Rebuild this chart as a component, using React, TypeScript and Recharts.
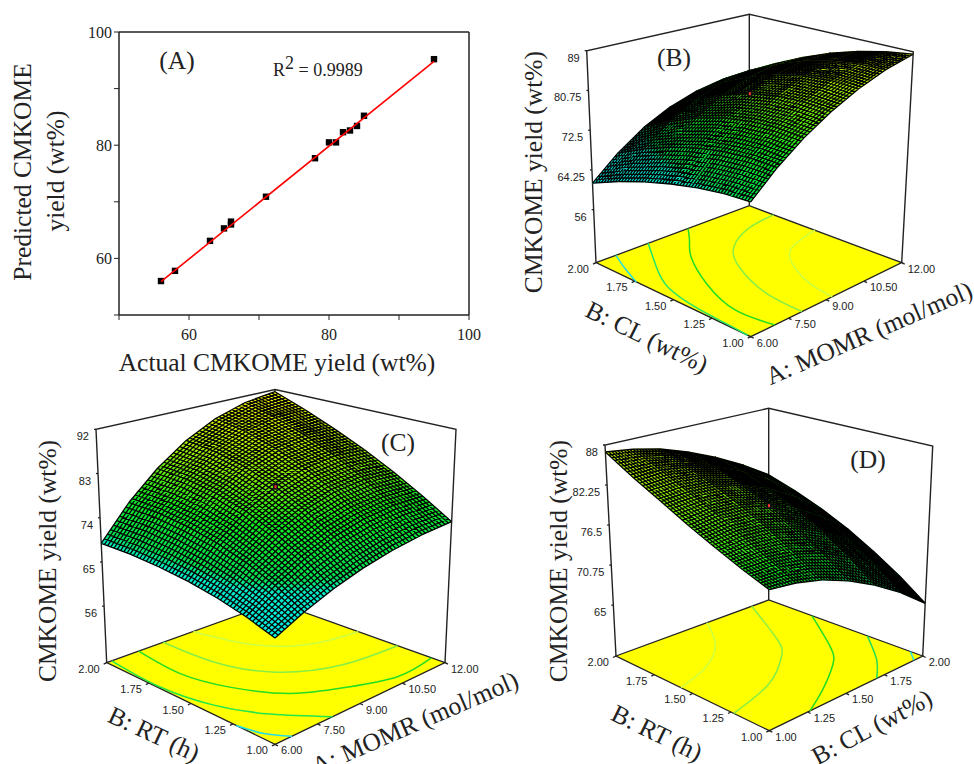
import React from 'react'
import { ReferenceLine, Scatter, ScatterChart, XAxis, YAxis } from 'recharts'

// (A) actual vs predicted
const actualYield = [56, 58, 63, 65, 66, 66, 71, 78, 80, 81, 82, 83, 84, 85, 95]
const predictedYield = [56, 57.8, 63.1, 65.3, 66, 66.5, 70.9, 77.7, 80.5, 80.5, 82.3, 82.6, 83.4, 85.2, 95.2]
const fitActual = [56, 95]
const fitPredicted = [55.9, 94.8]
const axisTicksA = [50, 60, 70, 80, 90, 100]
const labelledTicksA = [60, 80, 100]

// (B) yield rows, one per CL value, along MOMR
const bMomr = [6, 7, 8, 9, 10, 11, 12]
const bCl = [1, 1.167, 1.333, 1.5, 1.667, 1.833, 2]
const bYield = [
  [70.5, 75.1, 79.0, 82.3, 85.0, 87.1, 88.5],
  [70.1, 75.1, 79.3, 82.6, 85.2, 86.9, 87.7],
  [69.2, 74.5, 78.8, 82.2, 84.6, 86.0, 86.4],
  [67.9, 73.3, 77.7, 81.0, 83.3, 84.5, 84.6],
  [66.2, 71.5, 75.8, 79.0, 81.1, 82.2, 82.2],
  [64.1, 69.1, 73.2, 76.2, 78.3, 79.3, 79.3],
  [61.5, 66.1, 69.9, 72.7, 74.6, 75.7, 75.8],
]
const bContours = [
  [[6.78, 2], [6.36, 1.87], [6, 1.74]],
  [[8.04, 2], [7.14, 1.8], [6.42, 1.6], [6.12, 1.36], [6.06, 1.18], [6, 1.02]],
  [[9.6, 2], [9, 1.89], [8.28, 1.76], [7.38, 1.51], [6.81, 1.23], [6.96, 1]],
  [[12, 1.84], [10.86, 1.81], [9.66, 1.71], [8.82, 1.54], [8.16, 1.26], [8.04, 1]],
  [[12, 1.57], [10.74, 1.51], [9.99, 1.385], [9.42, 1.18], [9.24, 1]],
]
const bContourColors = ['#22dde6', '#22e66a', '#22dd22', '#88ee44', '#ccff44']

// (C) yield rows, one per RT value, along MOMR
const cMomr = [6, 7, 8, 9, 10, 11, 12]
const cRt = [1, 1.167, 1.333, 1.5, 1.667, 1.833, 2]
const cYield = [
  [64.4, 67.0, 69.2, 70.9, 72.1, 72.9, 73.2],
  [66.1, 69.9, 72.9, 75.1, 76.5, 77.1, 76.8],
  [67.4, 72.2, 75.9, 78.6, 80.2, 80.8, 80.2],
  [68.3, 73.9, 78.3, 81.4, 83.3, 84.0, 83.4],
  [68.8, 75.0, 79.9, 83.5, 85.7, 86.7, 86.3],
  [69.0, 75.6, 80.8, 84.8, 87.5, 88.9, 89.0],
  [68.8, 75.5, 81.0, 85.4, 88.6, 90.6, 91.5],
]
const cContours = [
  [[6, 1.23], [6.2, 1.1], [6.6, 1]],
  [[6.18, 2], [6.06, 1.71], [6.36, 1.43], [7.05, 1.205], [8.03, 1]],
  [[7.14, 2], [7, 1.73], [7.38, 1.5], [8.22, 1.28], [9.42, 1.15], [10.68, 1.06], [12, 1.08]],
  [[8.02, 2], [8.13, 1.72], [8.82, 1.47], [10.26, 1.32], [12, 1.28]],
  [[9.09, 2], [9.42, 1.8], [9.93, 1.655], [10.8, 1.555], [12, 1.51]],
]
const cContourColors = ['#22dde6', '#22e64a', '#22dd22', '#88ee44', '#ccff44']

// (D) yield rows, one per RT value, along CL
const dCl = [1, 1.167, 1.333, 1.5, 1.667, 1.833, 2]
const dRt = [1, 1.167, 1.333, 1.5, 1.667, 1.833, 2]
const dYield = [
  [76.3, 75.8, 74.8, 73.2, 71.1, 68.5, 65.3],
  [77.6, 77.6, 77.0, 75.8, 73.8, 71.2, 68.0],
  [79.1, 79.5, 79.1, 78.0, 76.2, 73.7, 70.4],
  [80.8, 81.3, 81.0, 80.0, 78.3, 75.8, 72.6],
  [82.7, 83.0, 82.7, 81.7, 80.0, 77.6, 74.5],
  [84.7, 84.8, 84.2, 83.1, 81.4, 79.0, 76.1],
  [87.0, 86.5, 85.6, 84.2, 82.4, 80.2, 77.5],
]
const dContours = [
  [[1.594, 2], [1.43, 1.78], [1.21, 1.64], [1, 1.576]],
  [[1.889, 2], [1.69, 1.634], [1.57, 1.49], [1.33, 1.33], [1, 1.232]],
  [[2, 1.72], [1.8, 1.4], [1.67, 1.255], [1.46, 1.11], [1.265, 1]],
  [[2, 1.36], [1.84, 1.14], [1.7, 1]],
  [[2, 1.08], [1.943, 1]],
]
const dContourColors = ['#ccff44', '#88ee44', '#22dd22', '#22dd55', '#22dde6']

const momrTicks = [6, 7.5, 9, 10.5, 12]
const unitTicks = [1, 1.25, 1.5, 1.75, 2]
const bZTicks = ['56', '64.25', '72.5', '80.75', '89']
const cZTicks = ['56', '65', '74', '83', '92']
const dZTicks = ['65', '70.75', '76.5', '82.25', '88']

const W = 974
const H = 764
const SERIF = '"Liberation Serif", "Times New Roman", serif'
const SANS = '"Liberation Sans", Arial, sans-serif'
const INK = '#222'
const MESH_DIVS = 9

type P = [number, number]
type Quad = { f: P; r: P; l: P; b: P }

const bilinear = (q: Quad, u: number, v: number): P => [
  q.f[0] * (1 - u) * (1 - v) + q.r[0] * u * (1 - v) + q.l[0] * (1 - u) * v + q.b[0] * u * v,
  q.f[1] * (1 - u) * (1 - v) + q.r[1] * u * (1 - v) + q.l[1] * (1 - u) * v + q.b[1] * u * v,
]

// surface colour by yield, same scale on all three panels
const RAMP: [number, number[]][] = [
  [60, [0, 240, 255]],
  [69, [0, 235, 200]],
  [70.5, [0, 225, 80]],
  [77, [20, 235, 30]],
  [83, [140, 240, 0]],
  [91, [255, 255, 0]],
]
const rampColor = (z: number) => {
  for (let i = 1; i < RAMP.length; i++) {
    if (z <= RAMP[i][0]) {
      const k = Math.max(0, (z - RAMP[i - 1][0]) / (RAMP[i][0] - RAMP[i - 1][0]))
      const rgb = RAMP[i][1].map((x, j) => Math.round(RAMP[i - 1][1][j] + (x - RAMP[i - 1][1][j]) * k))
      return `rgb(${rgb.join(',')})`
    }
  }
  return 'rgb(255,255,0)'
}

const noMark = () => <g />

const MeshCell = (props: any) => {
  const { cx, cy, payload } = props
  const pts: P[] = payload.pts.map((p: P) => [cx + p[0], cy + p[1]])
  const at = (u: number, v: number): P => bilinear({ f: pts[0], r: pts[1], b: pts[2], l: pts[3] }, u, v)
  const str = (p: P) => `${p[0].toFixed(1)} ${p[1].toFixed(1)}`
  const zs = payload.zs
  const zAt = (u: number, v: number) =>
    zs[0] * (1 - u) * (1 - v) + zs[1] * u * (1 - v) + zs[2] * u * v + zs[3] * (1 - u) * v
  const patches = []
  let d = ''
  for (let k = 0; k <= MESH_DIVS; k++) {
    const t = k / MESH_DIVS
    d += `M${str(at(t, 0))}L${str(at(t, 1))}M${str(at(0, t))}L${str(at(1, t))}`
    if (k === MESH_DIVS) break
    const t2 = (k + 1) / MESH_DIVS
    for (let m = 0; m < MESH_DIVS; m++) {
      const s = m / MESH_DIVS
      const s2 = (m + 1) / MESH_DIVS
      const fill = rampColor(zAt((t + t2) / 2, (s + s2) / 2))
      patches.push(
        <path
          key={`${k}-${m}`}
          d={`M${str(at(t, s))}L${str(at(t2, s))}L${str(at(t2, s2))}L${str(at(t, s2))}Z`}
          fill={fill}
          stroke={fill}
          strokeWidth={0.5}
        />,
      )
    }
  }
  return (
    <g>
      {patches}
      <path d={d} stroke="#000" strokeWidth={1.3} fill="none" />
    </g>
  )
}

const FloorCell = (props: any) => {
  const { cx, cy, payload } = props
  const pts = payload.pts.map((p: P) => `${cx + p[0]},${cy + p[1]}`).join(' ')
  return <polygon points={pts} fill="#ffff00" stroke={INK} strokeWidth={1.3} />
}

const TickMark = (props: any) => {
  const { cx, cy, payload } = props
  return (
    <g>
      <line x1={cx} y1={cy} x2={cx + payload.mx} y2={cy + payload.my} stroke={INK} strokeWidth={1.3} />
      <text
        x={cx + payload.dx}
        y={cy + payload.dy}
        textAnchor={payload.anchor}
        dominantBaseline="central"
        fontFamily={SANS}
        fontSize={11}
        fill={INK}
      >
        {payload.text}
      </text>
    </g>
  )
}

const DesignPoint = (props: any) => (
  <g>
    <rect x={props.cx - 2.5} y={props.cy - 3} width={5} height={6} fill="#111" />
    <rect x={props.cx - 1} y={props.cy - 1.5} width={2} height={3} fill="#e33" />
  </g>
)

const Title = ({ x, y, angle = 0, children, size = 25.5 }: any) => (
  <text
    x={x}
    y={y}
    transform={`rotate(${angle} ${x} ${y})`}
    textAnchor="middle"
    dominantBaseline="central"
    fontFamily={SERIF}
    fontSize={size}
    fill={INK}
  >
    {children}
  </text>
)

const layer: React.CSSProperties = { position: 'absolute', left: 0, top: 0 }

const Panel3D = ({ view, xs, ys, rows, contours, contourColors, xTicks, yTicks, zTicks, zRange, center, titles }: any) => {
  const [xMin, xMax] = [xs[0], xs[xs.length - 1]]
  const [yMin, yMax] = [ys[0], ys[ys.length - 1]]
  const [zFloor, zTop] = zRange
  const toU = (x: number) => (x - xMin) / (xMax - xMin)
  const toV = (y: number) => (y - yMin) / (yMax - yMin)
  const project = (x: number, y: number, z: number): P => {
    const a = bilinear(view.floor, toU(x), toV(y))
    const b = bilinear(view.top, toU(x), toV(y))
    const t = (z - zFloor) / (zTop - zFloor)
    return [a[0] + (b[0] - a[0]) * t, a[1] + (b[1] - a[1]) * t]
  }

  // far cells first so nearer ones paint over them
  const cells: any[] = []
  for (let j = ys.length - 2; j >= 0; j--) {
    for (let i = xs.length - 2; i >= 0; i--) {
      const corners = [
        project(xs[i], ys[j], rows[j][i]),
        project(xs[i + 1], ys[j], rows[j][i + 1]),
        project(xs[i + 1], ys[j + 1], rows[j + 1][i + 1]),
        project(xs[i], ys[j + 1], rows[j + 1][i]),
      ]
      cells.push({
        x: corners[0][0],
        y: corners[0][1],
        pts: corners.map((c) => [c[0] - corners[0][0], c[1] - corners[0][1]]),
        zs: [rows[j][i], rows[j][i + 1], rows[j + 1][i + 1], rows[j + 1][i]],
      })
    }
  }

  const toPoint = (p: P) => ({ x: p[0], y: p[1] })
  const floorCorners = [
    project(xMin, yMin, zFloor),
    project(xMax, yMin, zFloor),
    project(xMax, yMax, zFloor),
    project(xMin, yMax, zFloor),
  ]
  const floorCell = [{
    ...toPoint(floorCorners[0]),
    pts: floorCorners.map((c) => [c[0] - floorCorners[0][0], c[1] - floorCorners[0][1]]),
  }]
  const box = [
    project(xMin, yMax, zFloor),
    project(xMin, yMax, zTop),
    project(xMax, yMax, zTop),
    project(xMax, yMin, zTop),
    project(xMax, yMin, zFloor),
  ].map(toPoint)
  const backEdge = [project(xMax, yMax, zTop), project(xMax, yMax, zFloor)].map(toPoint)

  const xTickData = xTicks.map((t: number) => ({
    ...toPoint(project(t, yMin, zFloor)),
    text: t.toFixed(2), anchor: 'start', dx: 6, dy: 6, mx: 3, my: 1.5,
  }))
  const yTickData = yTicks.map((t: number) => ({
    ...toPoint(project(xMin, t, zFloor)),
    text: t.toFixed(2), anchor: 'end', dx: -7, dy: 6, mx: -3, my: 1.5,
  }))
  const zTickData = zTicks.map((t: string) => ({
    ...toPoint(project(xMin, yMax, Number(t))),
    text: t, anchor: 'end', dx: -7, dy: 7, mx: -2, my: 0,
  }))

  return (
    <div style={layer}>
      <ScatterChart width={W} height={H} margin={{ top: 0, right: 0, bottom: 0, left: 0 }}>
        <XAxis type="number" dataKey="x" domain={[0, W]} hide />
        <YAxis type="number" dataKey="y" domain={[0, H]} reversed hide />
        <Scatter data={box} line={{ stroke: INK, strokeWidth: 1.4 }} shape={noMark} isAnimationActive={false} />
        <Scatter data={backEdge} line={{ stroke: INK, strokeWidth: 1.4 }} shape={noMark} isAnimationActive={false} />
        <Scatter data={floorCell} shape={FloorCell} isAnimationActive={false} />
        {contours.map((c: number[][], i: number) => (
          <Scatter
            key={i}
            data={c.map((p) => toPoint(project(p[0], p[1], zFloor)))}
            line={{ stroke: contourColors[i], strokeWidth: 1.5 }}
            lineJointType="natural"
            shape={noMark}
            isAnimationActive={false}
          />
        ))}
        <Scatter data={cells} shape={MeshCell} isAnimationActive={false} />
        <Scatter data={[toPoint(project(center[0], center[1], center[2]))]} shape={DesignPoint} isAnimationActive={false} />
        <Scatter data={xTickData} shape={TickMark} isAnimationActive={false} />
        <Scatter data={yTickData} shape={TickMark} isAnimationActive={false} />
        <Scatter data={zTickData} shape={TickMark} isAnimationActive={false} />
        {titles.map((t: any) => (
          <Title key={t.text} x={t.x} y={t.y} angle={t.angle}>{t.text}</Title>
        ))}
      </ScatterChart>
    </div>
  )
}

const ParityPanel = () => {
  const points = actualYield.map((a, i) => ({ x: a, y: predictedYield[i] }))
  const fit = fitActual.map((a, i) => ({ x: a, y: fitPredicted[i] }))
  const tickStyle = { fontSize: 16, fontFamily: SERIF, fill: INK }
  const tickText = (v: number) => (labelledTicksA.includes(v) ? String(v) : '')
  return (
    <div style={layer}>
      <ScatterChart width={487} height={390} margin={{ top: 32, right: 18, bottom: 45, left: 89 }}>
        <XAxis
          type="number" dataKey="x" domain={[50, 100]} ticks={axisTicksA} interval={0} height={30}
          tick={tickStyle} tickFormatter={tickText} tickSize={5} tickMargin={9}
          axisLine={{ stroke: INK, strokeWidth: 1.5 }} tickLine={{ stroke: INK }}
        />
        <YAxis
          type="number" dataKey="y" domain={[50, 100]} ticks={axisTicksA} interval={0} width={30}
          tick={tickStyle} tickFormatter={tickText} tickSize={5} tickMargin={2}
          axisLine={{ stroke: INK, strokeWidth: 1.5 }} tickLine={{ stroke: INK }}
        />
        <ReferenceLine x={100} stroke={INK} strokeWidth={1.5} />
        <ReferenceLine y={100} stroke={INK} strokeWidth={1.5} />
        <Scatter
          data={points}
          isAnimationActive={false}
          shape={(p: any) => <rect x={p.cx - 3.2} y={p.cy - 3.2} width={6.4} height={6.4} fill="#000" />}
        />
        <Scatter data={fit} line={{ stroke: '#ff0000', strokeWidth: 1.6 }} shape={noMark} isAnimationActive={false} />
        <Title x={177} y={60}>(A)</Title>
        <text x={273} y={76} fontFamily={SERIF} fontSize={18} fill={INK}>
          R<tspan dy={-7}>2</tspan><tspan dy={7}> = 0.9989</tspan>
        </text>
        <Title x={277} y={362}>Actual CMKOME yield (wt%)</Title>
        <Title x={22} y={172} angle={-90}>Predicted CMKOME</Title>
        <Title x={55} y={171} angle={-90}>yield (wt%)</Title>
      </ScatterChart>
    </div>
  )
}

const viewB = {
  floor: { f: [750.7, 336.7], r: [901.7, 262.7], l: [596, 262.7], b: [749.3, 205.7] },
  top: { f: [750.7, 104.1], r: [913.3, 51.7], l: [586.7, 50.7], b: [749.3, 14.3] },
}
const viewC = {
  floor: { f: [275, 744.3], r: [445, 662.7], l: [106.7, 662.7], b: [275, 602] },
  top: { f: [275, 490.5], r: [456, 429.3], l: [96, 429.3], b: [275, 389.5] },
}
const viewD = {
  floor: { f: [769.3, 730.7], r: [922.7, 656], l: [616, 656], b: [768.7, 600] },
  top: { f: [769.3, 501], r: [932.7, 446], l: [605, 445], b: [768.7, 408.3] },
}

const App = () => (
  <div style={{ position: 'absolute', left: 0, top: 0, width: W, height: H, background: '#fff', overflow: 'hidden' }}>
    <ParityPanel />
    <Panel3D
      view={viewB} xs={bMomr} ys={bCl} rows={bYield} contours={bContours} contourColors={bContourColors}
      xTicks={momrTicks} yTicks={unitTicks} zTicks={bZTicks} zRange={[45, 89]} center={[9, 1.5, 81]}
      titles={[
        { text: 'CMKOME yield (wt%)', x: 533, y: 172, angle: -90 },
        { text: 'B: CL (wt%)', x: 647, y: 337, angle: 26 },
        { text: 'A: MOMR (mol/mol)', x: 869, y: 333, angle: -23.5 },
        { text: '(B)', x: 674, y: 57, angle: 0 },
      ]}
    />
    <Panel3D
      view={viewC} xs={cMomr} ys={cRt} rows={cYield} contours={cContours} contourColors={cContourColors}
      xTicks={momrTicks} yTicks={unitTicks} zTicks={cZTicks} zRange={[44.5, 92]} center={[9, 1.5, 81.4]}
      titles={[
        { text: 'CMKOME yield (wt%)', x: 47, y: 561, angle: -90 },
        { text: 'B: RT (h)', x: 154, y: 734, angle: 25 },
        { text: 'A: MOMR (mol/mol)', x: 415, y: 723, angle: -23.5 },
        { text: '(C)', x: 398, y: 442, angle: 0 },
      ]}
    />
    <Panel3D
      view={viewD} xs={dCl} ys={dRt} rows={dYield} contours={dContours} contourColors={dContourColors}
      xTicks={unitTicks} yTicks={unitTicks} zTicks={dZTicks} zRange={[57.7, 88]} center={[1.5, 1.5, 80]}
      titles={[
        { text: 'CMKOME yield (wt%)', x: 558, y: 561, angle: -90 },
        { text: 'B: RT (h)', x: 657, y: 733, angle: 26 },
        { text: 'B: CL (wt%)', x: 872, y: 727, angle: -28 },
        { text: '(D)', x: 868, y: 459, angle: 0 },
      ]}
    />
  </div>
)

export default App
